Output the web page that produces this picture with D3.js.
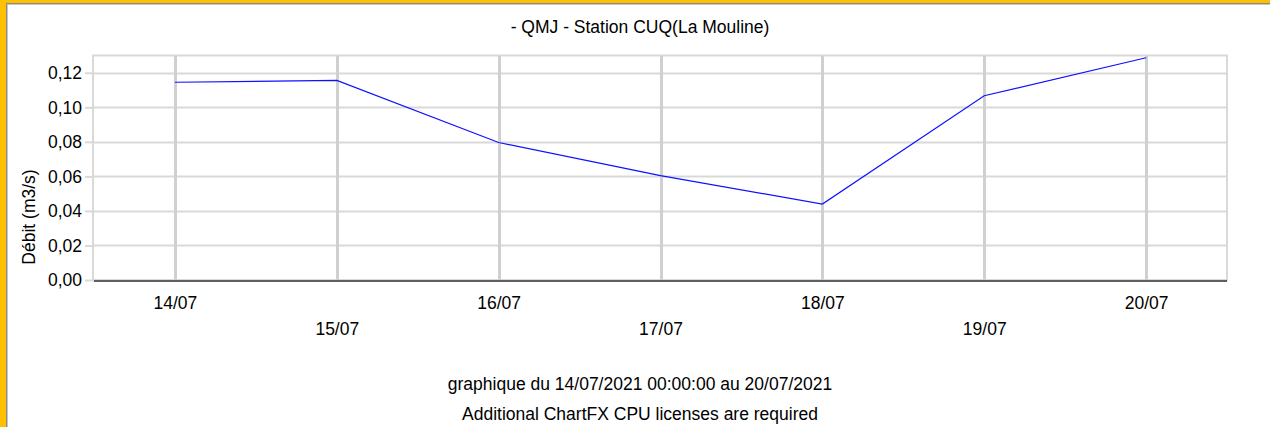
<!DOCTYPE html>
<html>
<head>
<meta charset="utf-8">
<script src="https://cdn.jsdelivr.net/npm/d3@7"></script>
<style>
  html, body { margin: 0; padding: 0; background: #fff; }
  svg { display: block; }
  text { font-family: "Liberation Sans", Arial, sans-serif; fill: #000; }
</style>
</head>
<body>
<svg id="chart" width="1270" height="427"></svg>
<script>
const categories = ["14/07", "15/07", "16/07", "17/07", "18/07", "19/07", "20/07"];
const debit = [0.1145, 0.1156, 0.0796, 0.0604, 0.0440, 0.1067, 0.1287];
const yTicks = [0, 0.02, 0.04, 0.06, 0.08, 0.10, 0.12];
const titleText = "- QMJ - Station CUQ(La Mouline)";
const yTitle = "Débit (m3/s)";
const footer1 = "graphique du 14/07/2021 00:00:00 au 20/07/2021";
const footer2 = "Additional ChartFX CPU licenses are required";

(function () {
const svg = d3.select("#chart");
const W = 1270, H = 427;
const FS = 17.5;
svg.append("rect").attr("width", W).attr("height", H).attr("fill", "#fff");
// window frame
svg.append("rect").attr("x", 0).attr("y", 0).attr("width", 6).attr("height", H).attr("fill", "#ffc000");
svg.append("rect").attr("x", 0).attr("y", 0).attr("width", W).attr("height", 3).attr("fill", "#ffc000");
svg.append("rect").attr("x", 6).attr("y", 3).attr("width", 1).attr("height", H).attr("fill", "#8a8a8a");
svg.append("rect").attr("x", 6).attr("y", 3).attr("width", W).attr("height", 1).attr("fill", "#8a8a8a");
svg.append("rect").attr("x", 7).attr("y", 4).attr("width", 1).attr("height", H).attr("fill", "#c8c8c8");
svg.append("rect").attr("x", 7).attr("y", 4).attr("width", W).attr("height", 1).attr("fill", "#c8c8c8");

const pL = 94, pR = 1227, pT = 55.5, pB = 280;
const x = d3.scalePoint().domain(categories).range([pL, pR]).padding(0.5);
const y = d3.scaleLinear().domain([0, 0.13]).range([pB, pT]);

const fmt = d => d3.format(".2f")(d).replace(".", ",");

// horizontal grid
svg.append("g").selectAll("line").data(yTicks).join("line")
  .attr("x1", pL - 1).attr("x2", pR)
  .attr("y1", d => Math.round(y(d)) + 0.5).attr("y2", d => Math.round(y(d)) + 0.5)
  .attr("stroke", "#d9d9d9").attr("stroke-width", 2);
// plot border
svg.append("rect").attr("x", pL - 1).attr("y", Math.round(pT) - 0.5)
  .attr("width", pR - pL + 1).attr("height", pB - Math.round(pT) + 0.5)
  .attr("fill", "none").attr("stroke", "#d9d9d9").attr("stroke-width", 2);
// vertical grid
svg.append("g").selectAll("line").data(categories).join("line")
  .attr("x1", d => Math.round(x(d)) + 0.5).attr("x2", d => Math.round(x(d)) + 0.5)
  .attr("y1", pT).attr("y2", pB)
  .attr("stroke", "#d0d0d0").attr("stroke-width", 3);

// y tick marks & labels
const yAxis = d3.axisLeft(y).tickValues(yTicks).tickFormat(fmt).tickSize(8).tickPadding(3);
const gy = svg.append("g").attr("transform", `translate(${pL - 1},0)`).call(yAxis);
gy.select(".domain").remove();
gy.selectAll(".tick line").attr("stroke", "#d9d9d9").attr("stroke-width", 2);
gy.selectAll(".tick text").attr("font-size", FS).attr("fill", "#000")
  .style("font-family", "'Liberation Sans', Arial, sans-serif")
  .attr("dy", "0.34em");

// x axis
const xAxis = d3.axisBottom(x).tickSize(0).tickPadding(0);
const gx = svg.append("g").attr("transform", `translate(0,${pB + 1})`).call(xAxis);
gx.select(".domain").attr("stroke", "#333").attr("stroke-width", 1.5)
  .attr("d", `M${pL},0H${pR}`);
gx.selectAll(".tick text").attr("font-size", FS).attr("fill", "#000")
  .style("font-family", "'Liberation Sans', Arial, sans-serif")
  .attr("dy", 0)
  .attr("y", (d, i) => i % 2 === 0 ? 28 : 54);

// line
svg.append("path").datum(debit)
  .attr("d", d3.line().x((d, i) => x(categories[i])).y(d => y(d)))
  .attr("fill", "none").attr("stroke", "#1010ff").attr("stroke-width", 1.2);

// titles
svg.append("text").attr("x", 640).attr("y", 33).attr("text-anchor", "middle")
  .attr("font-size", FS).text(titleText);
svg.append("text").attr("transform", "translate(35,217) rotate(-90)")
  .attr("text-anchor", "middle").attr("font-size", FS).text(yTitle);
svg.append("text").attr("x", 640).attr("y", 390).attr("text-anchor", "middle")
  .attr("font-size", FS).text(footer1);
svg.append("text").attr("x", 640).attr("y", 420).attr("text-anchor", "middle")
  .attr("font-size", FS).text(footer2);
})();
</script>
</body>
</html>
